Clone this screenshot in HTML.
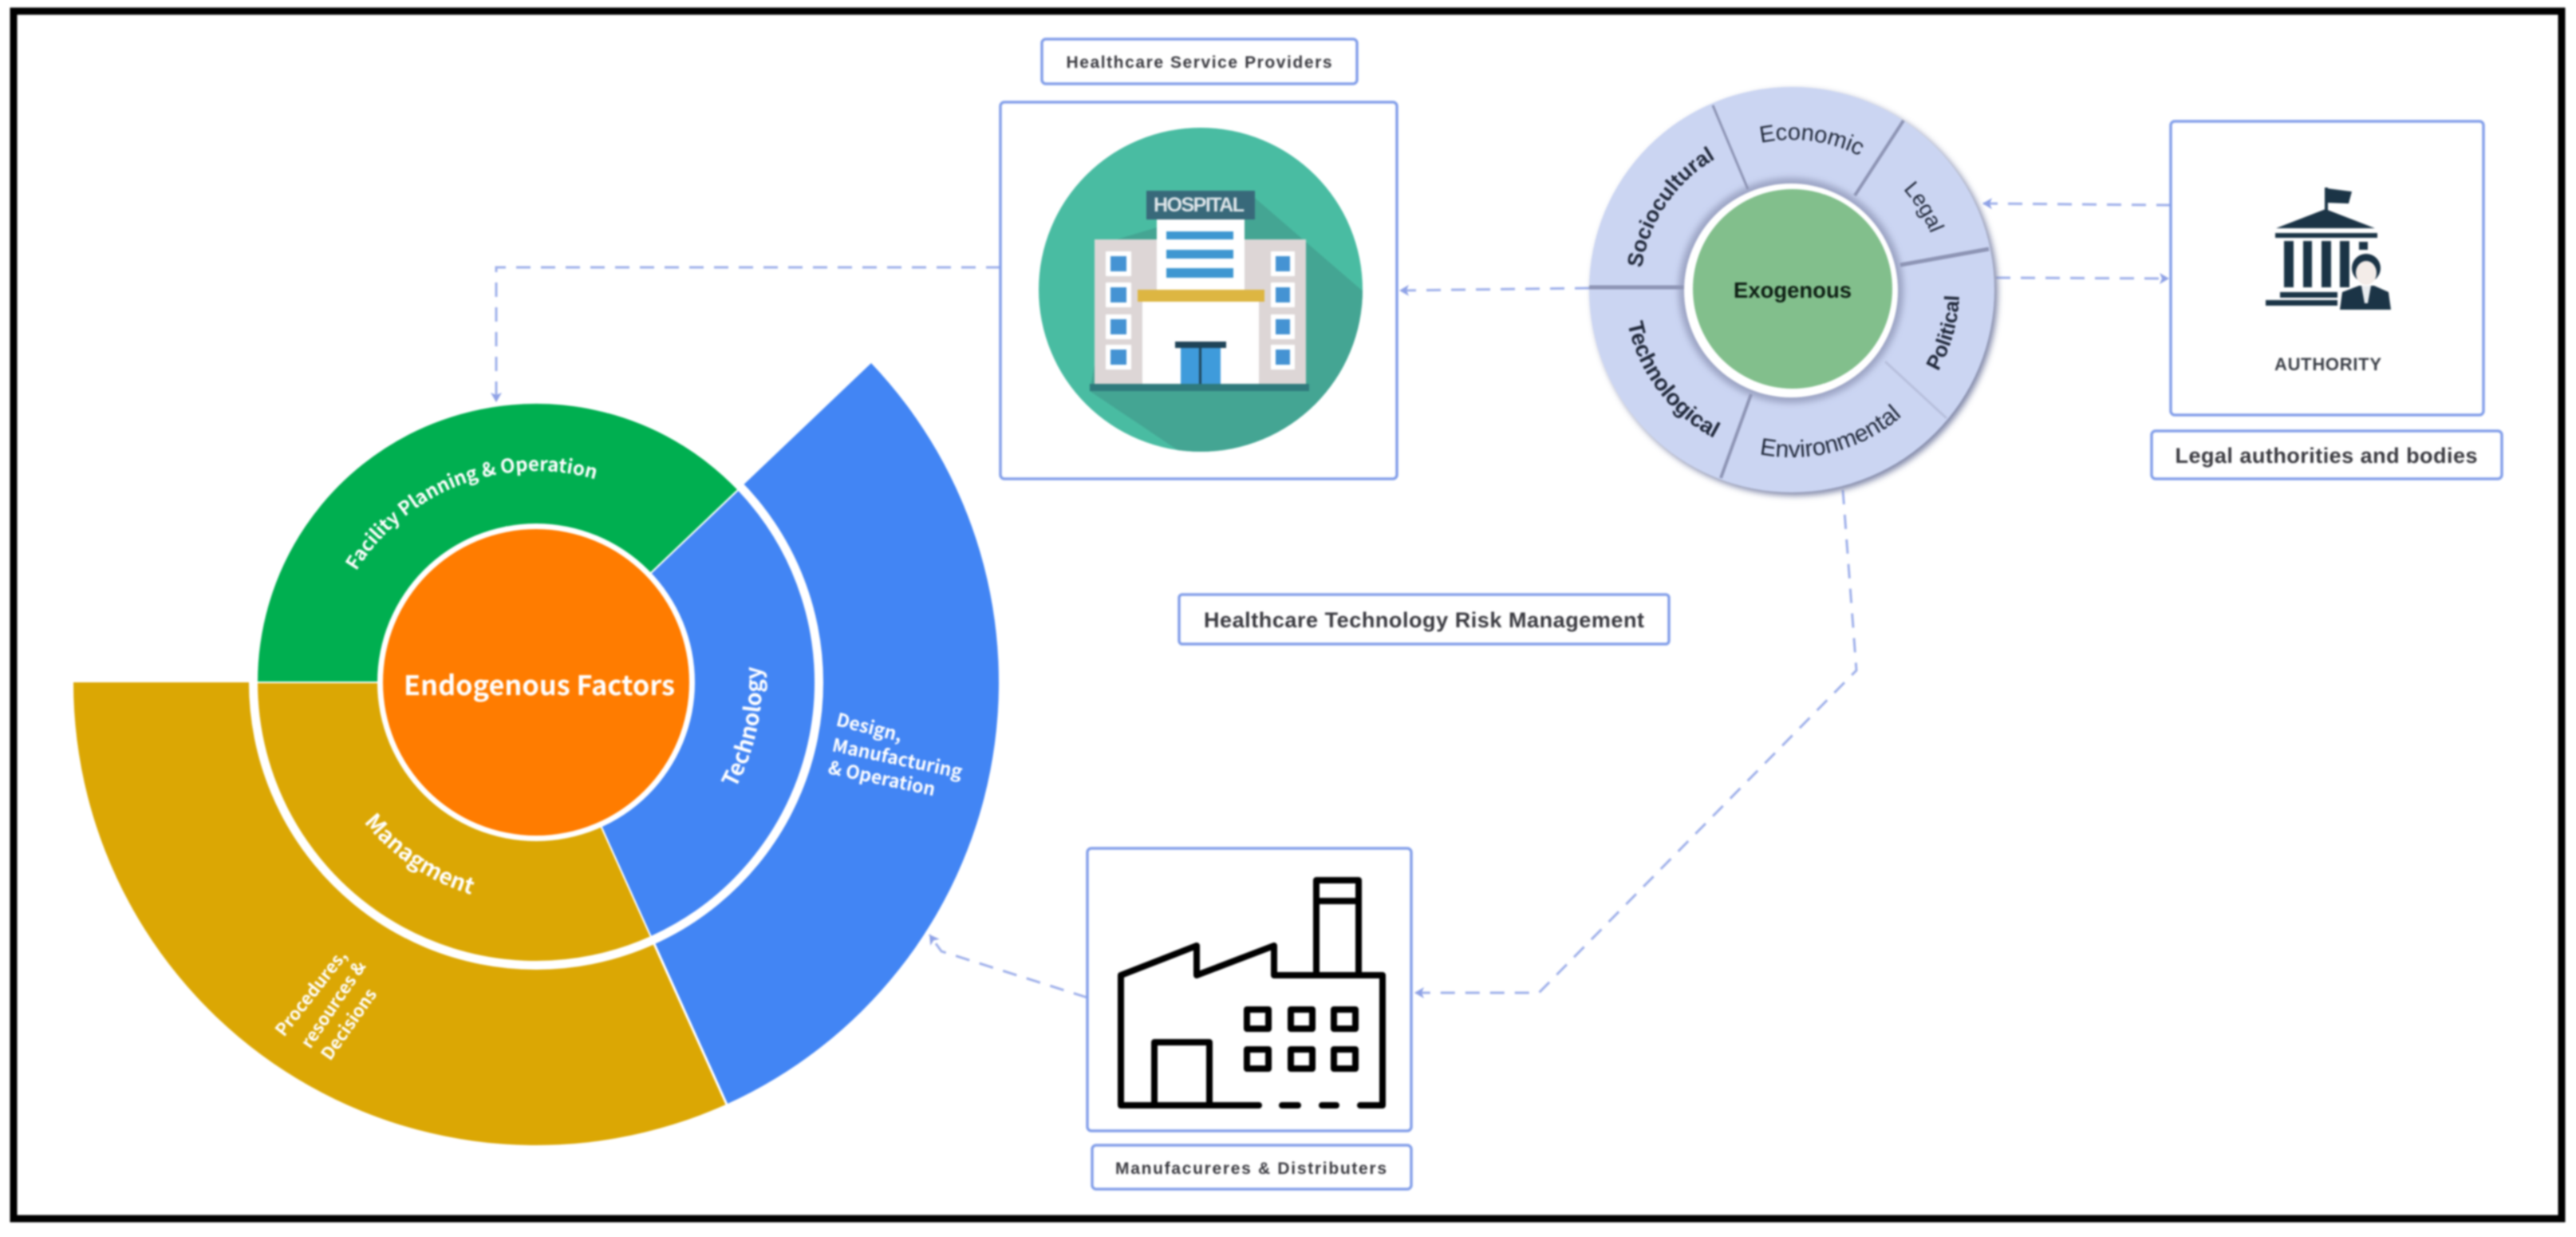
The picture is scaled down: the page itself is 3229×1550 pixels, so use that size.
<!DOCTYPE html>
<html><head><meta charset="utf-8"><title>Healthcare Technology Risk Management</title>
<style>
html,body{margin:0;padding:0;background:#fff;width:3229px;height:1550px;overflow:hidden}
svg{display:block;filter:blur(1.1px)}
text{font-family:"Liberation Sans",sans-serif}
.n{font-family:"Noto Sans CJK SC","Liberation Sans",sans-serif;fill:#fff;font-weight:700}
.c{stroke:#9fb0ea;stroke-width:3;stroke-dasharray:18 13;fill:none}
.b{fill:#fff;stroke:#84a0ea;stroke-width:3.5}
.l{font-weight:700;fill:#3a3a40;text-anchor:middle}
.r{fill:#20283a;text-anchor:middle}
</style></head><body>
<svg width="3229" height="1550" viewBox="0 0 3229 1550" xmlns="http://www.w3.org/2000/svg">
<defs>
<marker id="a" markerWidth="18" markerHeight="18" refX="15" refY="9" orient="auto" markerUnits="userSpaceOnUse"><path d="M15 9 L3 2 L6 9 L3 16Z" fill="#8fa2e6"/></marker>
<path id="f265" d="M-265 0A265 265 0 0 1 265 0"/>
<path id="b283" d="M-283 0A283 283 0 0 0 283 0"/>
<path id="b278" d="M-278 0A278 278 0 0 0 278 0"/>
<path id="c188" d="M-188 0A188 188 0 0 1 188 0"/>
<path id="c190" d="M-190 0A190 190 0 0 1 190 0"/>
<path id="b210" d="M-210 0A210 210 0 0 0 210 0"/>
<clipPath id="hc"><circle cx="1505" cy="363" r="203"/></clipPath>
<filter id="s" x="-10%" y="-10%" width="125%" height="125%"><feGaussianBlur stdDeviation="4"/></filter>
</defs>
<rect width="3229" height="1550" fill="#fff"/>
<rect x="17" y="14" width="3194" height="1513" fill="none" stroke="#000" stroke-width="9"/>

<!-- Endogenous sunburst -->
<path d="M672 855L92 855A580 580 0 0 0 910.7 1383.6Z" fill="#DBA704"/>
<path d="M672 855L1092 455A580 580 0 0 1 910.7 1383.6Z" fill="#4285F4"/>
<circle cx="672" cy="855" r="360" fill="#fff"/>
<path d="M672 855L932 609" stroke="#fff" stroke-width="4"/>
<line x1="672" y1="855" x2="911" y2="1384" stroke="#fff" stroke-width="3"/>
<path d="M672 855L322 855A350 350 0 0 1 925.5 613.6Z" fill="#00AF50" stroke="#fff" stroke-width="2"/>
<path d="M672 855L925.5 613.6A350 350 0 0 1 816 1174Z" fill="#4285F4" stroke="#fff" stroke-width="2"/>
<path d="M672 855L816 1174A350 350 0 0 1 322 855Z" fill="#DBA704" stroke="#fff" stroke-width="2"/>
<circle cx="672" cy="855" r="199" fill="#fff"/>
<circle cx="672" cy="855" r="192" fill="#FF7C00"/>
<text class="n" x="676" y="871" text-anchor="middle" font-size="34" textLength="340" lengthAdjust="spacingAndGlyphs">Endogenous Factors</text>
<g transform="translate(672 855) rotate(-21)"><text class="n" font-size="24" text-anchor="middle"><textPath href="#f265" startOffset="50%">Facility Planning &amp; Operation</textPath></text></g>
<g transform="translate(672 855) rotate(-78)"><text class="n" font-size="28" text-anchor="middle"><textPath href="#b283" startOffset="50%">Technology</textPath></text></g>
<g transform="translate(672 855) rotate(34)"><text class="n" font-size="28" text-anchor="middle"><textPath href="#b278" startOffset="50%">Managment</textPath></text></g>
<text class="n" font-size="23" transform="translate(1047 909) rotate(14)">Design,</text>
<text class="n" font-size="23" transform="translate(1042 941) rotate(12)">Manufacturing</text>
<text class="n" font-size="23" transform="translate(1037 969) rotate(12)">&amp; Operation</text>
<text class="n" font-size="22" transform="translate(356 1300) rotate(-52)">Procedures,</text>
<text class="n" font-size="22" transform="translate(389 1315) rotate(-56)">resources &amp;</text>
<text class="n" font-size="22" transform="translate(414 1330) rotate(-55)">Decisions</text>

<!-- Connectors -->
<path class="c" d="M1254 335H622V504" marker-end="url(#a)"/>
<path class="c" d="M1992 361L1754 364" marker-end="url(#a)"/>
<path class="c" d="M2721 257L2485 255" marker-end="url(#a)"/>
<path class="c" d="M2502 348L2719 349" marker-end="url(#a)"/>
<path class="c" d="M2310 614L2327 840L1929 1244H1773" marker-end="url(#a)"/>
<path class="c" d="M1363 1250L1180 1192L1165 1171" marker-end="url(#a)"/>

<!-- Hospital -->
<rect class="b" x="1306" y="49" width="395" height="56" rx="5"/>
<text class="l" x="1503" y="85" font-size="21" textLength="333">Healthcare Service Providers</text>
<rect class="b" x="1254" y="128" width="497" height="472" rx="5"/>
<circle cx="1505" cy="363" r="203" fill="#49BCA2"/>
<polygon clip-path="url(#hc)" points="1573,248 1720,375 1720,620 1530,600 1366,490 1400,300" fill="#44A593"/>
<rect x="1437" y="239" width="136" height="36" fill="#38697A"/>
<text x="1503" y="265" font-size="25" font-weight="700" fill="#dfe6ea" text-anchor="middle" textLength="114">HOSPITAL</text>
<rect x="1372" y="300" width="265" height="181" fill="#DDD6D6"/>
<rect x="1450" y="275" width="110" height="90" fill="#fff"/>
<rect x="1462" y="290" width="84" height="10" fill="#3E97D1"/><rect x="1462" y="313" width="84" height="11" fill="#3E97D1"/><rect x="1462" y="336" width="84" height="12" fill="#3E97D1"/>
<rect x="1432" y="378" width="146" height="103" fill="#fff"/>
<rect x="1426" y="363" width="159" height="15" fill="#DDB642"/>
<g fill="#fff"><rect x="1386" y="315" width="32" height="31"/><rect x="1386" y="354" width="32" height="31"/><rect x="1386" y="394" width="32" height="31"/><rect x="1386" y="432" width="32" height="31"/><rect x="1593" y="315" width="30" height="31"/><rect x="1593" y="354" width="30" height="31"/><rect x="1593" y="394" width="30" height="31"/><rect x="1593" y="432" width="30" height="31"/></g>
<g fill="#4593D3"><rect x="1392" y="321" width="20" height="19"/><rect x="1392" y="360" width="20" height="19"/><rect x="1392" y="400" width="20" height="19"/><rect x="1392" y="438" width="20" height="19"/><rect x="1599" y="321" width="18" height="19"/><rect x="1599" y="360" width="18" height="19"/><rect x="1599" y="400" width="18" height="19"/><rect x="1599" y="438" width="18" height="19"/></g>
<rect x="1473" y="428" width="64" height="8" fill="#1F4458"/>
<rect x="1480" y="436" width="50" height="46" fill="#3F9BDB"/><rect x="1503" y="436" width="3" height="46" fill="#1F4458"/>
<rect x="1366" y="481" width="275" height="9" fill="#2F7A7C"/>

<!-- Exogenous ring -->
<circle cx="2250" cy="367" r="254" fill="#7d84a6" filter="url(#s)"/>
<circle cx="2246" cy="363" r="254" fill="#CBD5F2"/>
<circle cx="2245" cy="364" r="141" fill="#9ca4c4" filter="url(#s)"/>
<g stroke="#8d94b4" stroke-width="3">
<line x1="2147" y1="132" x2="2191" y2="237"/>
<line x1="2386" y1="151" x2="2325" y2="245" stroke-width="4"/>
<line x1="2493" y1="312" x2="2382" y2="332" stroke-width="5"/>
<line x1="2440" y1="524" x2="2363" y2="453" stroke="#b7bfdc"/>
<line x1="2157" y1="599" x2="2195" y2="494" stroke-width="4"/>
<line x1="1992" y1="360" x2="2111" y2="360" stroke-width="5"/>
</g>
<circle cx="2245" cy="364" r="134" fill="#fff"/>
<circle cx="2247" cy="362" r="125" fill="#82BF8C"/>
<text x="2247" y="373" font-size="28" font-weight="700" fill="#0e1f14" text-anchor="middle" textLength="148" lengthAdjust="spacingAndGlyphs">Exogenous</text>
<g transform="translate(2246 363) rotate(7.5)"><text class="r" font-size="29"><textPath href="#c188" startOffset="50%">Economic</textPath></text></g>
<g transform="translate(2246 363) rotate(-56)"><text class="r" font-size="27" font-weight="700"><textPath href="#c190" startOffset="50%">Sociocultural</textPath></text></g>
<g transform="translate(2246 363) rotate(58)"><text class="r" font-size="27"><textPath href="#c188" startOffset="50%">Legal</textPath></text></g>
<g transform="translate(2246 363) rotate(-74.4)"><text class="r" font-size="26" font-weight="700"><textPath href="#b210" startOffset="50%">Political</textPath></text></g>
<g transform="translate(2246 363) rotate(-15)"><text class="r" font-size="30"><textPath href="#b210" startOffset="50%">Environmental</textPath></text></g>
<g transform="translate(2246 363) rotate(53)"><text class="r" font-size="28" font-weight="700"><textPath href="#b210" startOffset="50%">Technological</textPath></text></g>

<!-- Authority -->
<rect class="b" x="2721" y="152" width="392" height="368" rx="5"/>
<g fill="#1B3446">
<rect x="2914" y="235" width="4" height="30"/><path d="M2917 236L2948 240L2944 255L2917 254Z"/>
<path d="M2915 262L2977 286H2853Z"/><rect x="2852" y="292" width="128" height="6"/>
<rect x="2863" y="302" width="12" height="58"/><rect x="2887" y="302" width="11" height="58"/><rect x="2910" y="302" width="12" height="58"/><rect x="2933" y="302" width="12" height="58"/><rect x="2957" y="303" width="11" height="10"/>
<rect x="2858" y="366" width="72" height="7"/><rect x="2840" y="376" width="90" height="7"/>
<path d="M2933 388L2936 366L2957 358H2976L2994 366L2997 388Z"/>
<circle cx="2966" cy="336" r="18"/>
</g>
<ellipse cx="2966" cy="342" rx="13" ry="15" fill="#f3ece8"/>
<path d="M2960 358h12l-4 22h-4z" fill="#e9ecef"/>
<text x="2918" y="464" font-size="22" font-weight="700" fill="#3c4048" text-anchor="middle" textLength="134">AUTHORITY</text>
<rect class="b" x="2697" y="540" width="439" height="60" rx="5"/>
<text class="l" x="2916" y="580" font-size="27" textLength="379">Legal authorities and bodies</text>

<rect class="b" x="1478" y="745" width="614" height="62" rx="4"/>
<text class="l" x="1785" y="786" font-size="27" textLength="552">Healthcare Technology Risk Management</text>

<!-- Factory -->
<rect class="b" x="1363" y="1063" width="406" height="354" rx="5"/>
<g fill="none" stroke="#000" stroke-width="8" stroke-linejoin="round" stroke-linecap="round">
<path d="M1578 1385H1405V1222L1500 1185V1222L1597 1185V1222H1733V1385H1705"/>
<path d="M1607 1385H1627M1657 1385H1675"/>
<path d="M1650 1222V1103H1703V1222M1650 1129H1703"/>
<path d="M1447 1385V1306H1516V1385"/>
<rect x="1563" y="1265" width="27" height="24"/><rect x="1618" y="1265" width="27" height="24"/><rect x="1672" y="1265" width="27" height="24"/>
<rect x="1563" y="1315" width="27" height="24"/><rect x="1618" y="1315" width="27" height="24"/><rect x="1672" y="1315" width="27" height="24"/>
</g>
<rect class="b" x="1369" y="1435" width="400" height="55" rx="5"/>
<text class="l" x="1568" y="1471" font-size="21" textLength="340">Manufacureres &amp; Distributers</text>
</svg>
</body></html>
